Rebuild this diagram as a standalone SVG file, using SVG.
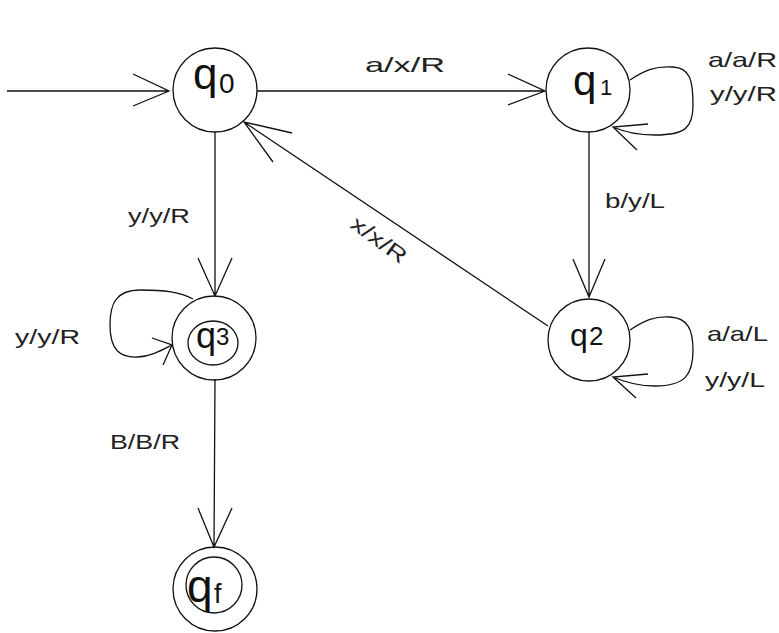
<svg xmlns="http://www.w3.org/2000/svg" width="779" height="633" viewBox="0 0 779 633">
<style>
.st{fill:none;stroke:#111;stroke-width:1.3}
.ln{fill:none;stroke:#111;stroke-width:1.3}
.lb{font-family:"Liberation Sans",Arial,sans-serif;font-size:21px;fill:#222}
.q{font-family:"Liberation Sans",Arial,sans-serif;fill:#111}
</style>
<rect width="779" height="633" fill="#fff"/>
<g id="connectors">
  <g id="entry"><path class="ln" d="M7,91 L169,91 M133,74 L169,91 L133,106"/></g>
  <g id="e-q0-q1"><path class="ln" d="M257,91 L545,91 M508,74 L545,91 L508,105"/>
    <text class="lb" x="365" y="72" textLength="80" lengthAdjust="spacingAndGlyphs">a/x/R</text></g>
  <g id="e-q1-q1"><path class="ln" d="M630,80 C645,70 655,66 673,67 C690,68 693,80 693,105 C693,128 685,135 655,135 C635,135 622,131 613,127 M648,124 L613,127 L637,150"/>
    <text class="lb" x="708" y="67" textLength="69" lengthAdjust="spacingAndGlyphs">a/a/R</text>
    <text class="lb" x="710" y="101" textLength="67" lengthAdjust="spacingAndGlyphs">y/y/R</text></g>
  <g id="e-q1-q2"><path class="ln" d="M589,132 L589,297 M573,259 L589,297 L605,259"/>
    <text class="lb" x="605" y="208" textLength="60" lengthAdjust="spacingAndGlyphs">b/y/L</text></g>
  <g id="e-q2-q2"><path class="ln" d="M630,330 C645,320 655,316 670,317 C688,318 693,330 693,350 C693,375 685,386 655,386 C635,386 622,381 613,377 M648,374 L613,377 L636,398"/>
    <text class="lb" x="707" y="341" textLength="61" lengthAdjust="spacingAndGlyphs">a/a/L</text>
    <text class="lb" x="705" y="387" textLength="60" lengthAdjust="spacingAndGlyphs">y/y/L</text></g>
  <g id="e-q2-q0"><path class="ln" d="M548,326 L244,122 M292,133 L244,122 L273,162"/>
    <text class="lb" transform="translate(379,240) rotate(36)" x="0" y="7" text-anchor="middle" textLength="64" lengthAdjust="spacingAndGlyphs">x/x/R</text></g>
  <g id="e-q0-q3"><path class="ln" d="M215,132 L215,296 M198,258 L215,296 L232,258"/>
    <text class="lb" x="128" y="223" textLength="62" lengthAdjust="spacingAndGlyphs">y/y/R</text></g>
  <g id="e-q3-q3"><path class="ln" d="M193,299 C180,292 165,290 140,290 C115,290 110,305 110,325 C110,350 120,358 138,357 C152,356 162,350 172,345 M152,338 L172,345 L163,365"/>
    <text class="lb" x="15" y="344" textLength="65" lengthAdjust="spacingAndGlyphs">y/y/R</text></g>
  <g id="e-q3-qf"><path class="ln" d="M215,379 L214,547 M198,508 L214,547 L232,508"/>
    <text class="lb" x="110" y="449" textLength="70" lengthAdjust="spacingAndGlyphs">B/B/R</text></g>
</g>
<g id="q0"><circle class="st" cx="215" cy="90" r="42"/>
  <text class="q" x="193" y="89" font-size="44">q</text><text class="q" x="219" y="93" font-size="28">0</text></g>
<g id="q1"><circle class="st" cx="588" cy="90" r="42"/>
  <text class="q" x="573" y="95" font-size="42">q</text><text class="q" x="600" y="95" font-size="22">1</text></g>
<g id="q2"><circle class="st" cx="589" cy="340" r="41"/>
  <text class="q" x="570" y="346" font-size="32">q</text><text class="q" x="589" y="345" font-size="26">2</text></g>
<g id="q3"><circle class="st" cx="214" cy="338" r="42"/><ellipse class="st" cx="213" cy="343" rx="25" ry="22"/>
  <text class="q" x="196" y="348" font-size="36">q</text><text class="q" x="216" y="345" font-size="24">3</text></g>
<g id="qf"><circle class="st" cx="215" cy="589" r="42"/><circle class="st" cx="214" cy="585" r="28"/>
  <text class="q" x="187" y="602" font-size="46">q</text><text class="q" x="214" y="603" font-size="27">f</text></g>
</svg>
